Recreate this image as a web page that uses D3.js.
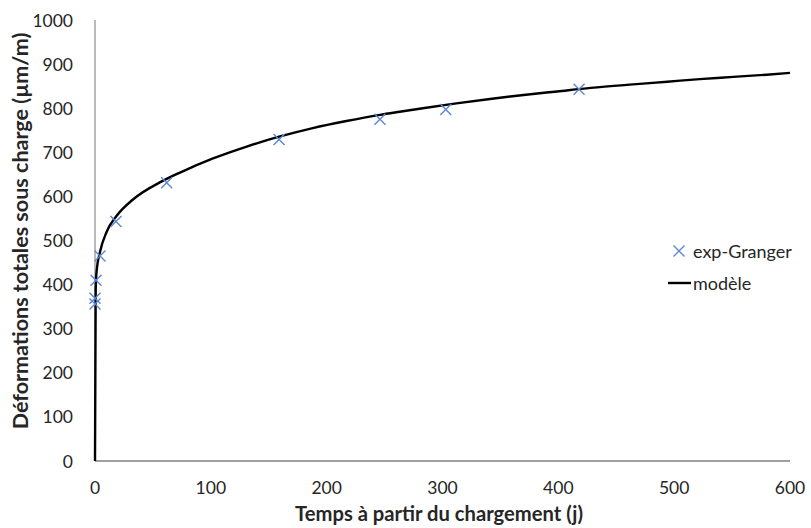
<!DOCTYPE html>
<html>
<head>
<meta charset="utf-8">
<script src="https://cdn.jsdelivr.net/npm/d3@7"></script>
<style>
  html, body { margin: 0; padding: 0; background: #fff; }
  svg { display: block; }
  text { font-family: Lato, "Open Sans", sans-serif; fill: #262626; }
</style>
</head>
<body>
<svg id="chart" width="811" height="528"></svg>
<script>
// ---- data ----
const expTime   = [0, 0, 0.9, 4.3, 18.1, 61.9, 158.9, 246, 302.8, 417.9];
const expStrain = [356, 369, 410, 465, 543, 631, 729, 775, 797, 843];

const modelTime   = [0, 0.6, 1.5, 4.3, 10.1, 18.7, 32.8, 57.6, 73.4, 101.9, 131, 159.7, 188, 217, 246, 263, 283, 312, 341, 370, 399, 428, 464.5, 494, 522, 551, 580, 600];
const modelStrain = [0, 390, 433, 474, 520, 556, 593, 634, 654, 686, 713, 736, 755, 771, 785, 792, 800, 811, 821, 830, 838, 846, 854, 860, 866, 871, 876, 880];

const xTicks = [0, 100, 200, 300, 400, 500, 600];
const yTicks = [0, 100, 200, 300, 400, 500, 600, 700, 800, 900, 1000];

const xTitle = "Temps à partir du chargement (j)";
const yTitle = "Déformations totales sous charge (µm/m)";
const legendLabels = ["exp-Granger", "modèle"];

// ---- layout ----
const svg = d3.select("#chart");
const x = d3.scaleLinear().domain([0, 600]).range([95, 790]);
const y = d3.scaleLinear().domain([0, 1000]).range([461, 20]);

const blue = "#5B87D3";

// y tick labels
svg.append("g").selectAll("text").data(yTicks).join("text")
  .attr("x", 73).attr("y", d => y(d))
  .attr("text-anchor", "end").attr("dominant-baseline", "central")
  .style("font-size", "17.5px")
  .text(d => d);

// x tick labels
svg.append("g").selectAll("text").data(xTicks).join("text")
  .attr("x", d => x(d)).attr("y", 487)
  .attr("text-anchor", "middle").attr("dominant-baseline", "central")
  .style("font-size", "17.5px")
  .text(d => d);

// axis lines
svg.append("line").attr("x1", x(0)).attr("x2", x(0)).attr("y1", y(1000)).attr("y2", y(0))
  .attr("stroke", "#8c8c8c").attr("stroke-width", 1.2);
svg.append("line").attr("x1", x(0)).attr("x2", x(600)).attr("y1", y(0)).attr("y2", y(0))
  .attr("stroke", "#404040").attr("stroke-width", 1.2);

// model line
const modelData = modelTime.map((t, i) => [t, modelStrain[i]]);
svg.append("path").datum(modelData)
  .attr("fill", "none").attr("stroke", "#000").attr("stroke-width", 2.4)
  .attr("stroke-linejoin", "round")
  .attr("d", d3.line().x(d => x(d[0])).y(d => y(d[1])).curve(d3.curveMonotoneX));

// exp markers
const s = 5.5;
const expData = expTime.map((t, i) => [t, expStrain[i]]);
svg.append("g").selectAll("path").data(expData).join("path")
  .attr("transform", d => `translate(${x(d[0])},${y(d[1])})`)
  .attr("d", `M${-s},${-s}L${s},${s}M${-s},${s}L${s},${-s}`)
  .attr("stroke", blue).attr("stroke-width", 1.4).attr("fill", "none");

// axis titles
function fitText(sel, w) {
  const len = sel.node().getComputedTextLength();
  const fs = parseFloat(sel.style("font-size"));
  sel.style("font-size", (fs * w / len) + "px");
}
const xt = svg.append("text").attr("x", 439).attr("y", 521)
  .attr("text-anchor", "middle").style("font-weight", "bold").style("font-size", "17px")
  .text(xTitle);
fitText(xt, 288);

const yt = svg.append("text").attr("transform", "translate(28,231) rotate(-90)")
  .attr("text-anchor", "middle").style("font-weight", "bold").style("font-size", "17px")
  .text(yTitle);
fitText(yt, 397);

// legend
const lg = svg.append("g");
lg.append("path").attr("transform", "translate(679,251)")
  .attr("d", `M${-s},${-s}L${s},${s}M${-s},${s}L${s},${-s}`)
  .attr("stroke", blue).attr("stroke-width", 1.4).attr("fill", "none");
lg.append("line").attr("x1", 668).attr("x2", 691).attr("y1", 283).attr("y2", 283)
  .attr("stroke", "#000").attr("stroke-width", 2.4);
lg.selectAll("text").data(legendLabels).join("text")
  .attr("x", 693).attr("y", (d, i) => 251 + i * 32)
  .attr("dominant-baseline", "central").style("font-size", "18px")
  .text(d => d);
</script>
</body>
</html>
